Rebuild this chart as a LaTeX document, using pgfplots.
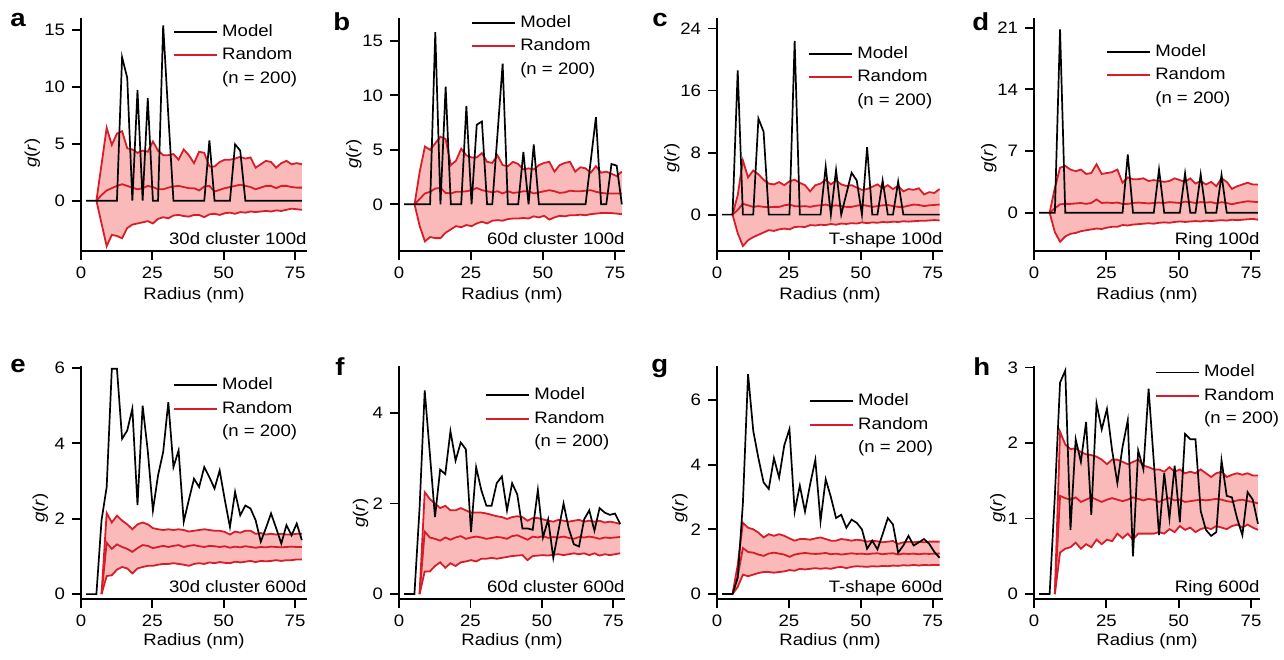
\documentclass[border=0pt]{standalone}
\usepackage{fontspec}
\setmainfont{Liberation Sans}[FakeStretch=1.12]
\usepackage{pgfplots}
\usepackage{pgfplotstable}
\pgfplotsset{compat=1.18}
\usepgfplotslibrary{fillbetween}

\definecolor{rline}{RGB}{215,30,40}
\definecolor{band}{RGB}{250,186,186}

\pgfplotstableread{
x y
1.8 0
12.6 0
14.4 12.6
16.2 10.8
18.0 0
19.8 9.7
21.6 0
23.4 9.0
25.2 0
27.0 0
28.8 15.4
30.6 7.5
32.4 0
43.2 0
45.0 5.3
46.8 0
52.2 0
54.0 4.95
55.8 4.4
57.6 0
77.4 0
}\ma
\pgfplotstableread{
x lo mid hi
5.4 0 0 0
7.2 -2.0 0.5 3.2
9.0 -4.0 0.9 6.4
10.8 -3.0 1.1 4.9
12.6 -3.1 1.3 5.9
14.4 -3.3 1.45 6.1
16.2 -2.4 1.3 4.6
18.0 -2.1 1.15 4.5
19.8 -2.0 1.0 4.2
21.6 -1.9 1.1 4.4
23.4 -1.8 1.3 4.3
25.2 -2.0 1.2 5.2
27.0 -1.6 1.0 4.4
28.8 -1.45 1.0 4.0
30.6 -1.55 1.15 4.0
32.4 -1.3 1.25 4.1
34.2 -1.25 1.3 3.6
36.0 -1.35 1.2 4.5
37.8 -1.4 1.1 4.0
39.6 -1.25 1.1 3.3
41.4 -1.25 0.9 4.3
43.2 -1.45 1.25 4.2
45.0 -1.2 1.3 3.0
46.8 -1.15 0.8 3.0
48.6 -1.25 0.95 3.4
50.4 -1.1 1.1 3.6
52.2 -1.05 1.2 3.6
54.0 -1.15 1.3 3.7
55.8 -1.0 1.4 3.85
57.6 -1.05 1.3 3.7
59.4 -0.95 1.2 3.8
61.2 -1.0 1.0 2.9
63.0 -0.95 1.15 3.2
64.8 -0.9 1.3 3.5
66.6 -0.95 1.3 3.4
68.4 -0.85 1.1 2.9
70.2 -0.9 1.3 3.3
72.0 -0.8 1.3 3.5
73.8 -0.7 1.2 3.2
75.6 -0.75 1.15 3.3
77.4 -0.8 1.15 3.2
}\ra

\pgfplotstableread{
x y
1.8 0
10.8 0
12.6 15.8
14.4 0
16.2 10.8
18.0 0
21.6 0
23.4 9.0
25.2 0
27.0 7.3
28.8 7.6
30.6 0
32.4 0
34.2 6.4
36.0 12.9
37.8 0
41.4 0
43.2 4.8
45.0 0
46.8 5.5
48.6 0
64.8 0
66.6 4.0
68.4 8.0
70.2 0
72.0 0
73.8 3.7
75.6 3.55
77.4 0
}\mb
\pgfplotstableread{
x lo mid hi
5.4 0 0 0
7.2 -2.0 0.5 3.0
9.0 -3.4 1.0 5.3
10.8 -3.0 1.15 5.0
12.6 -3.1 1.45 5.6
14.4 -3.1 1.5 6.2
16.2 -2.6 1.05 6.0
18.0 -2.3 1.0 3.6
19.8 -2.0 1.15 4.0
21.6 -2.1 1.15 5.1
23.4 -1.9 1.2 4.5
25.2 -2.0 1.3 4.3
27.0 -1.75 1.5 4.3
28.8 -1.6 1.3 4.7
30.6 -1.75 1.2 3.9
32.4 -1.5 1.1 3.8
34.2 -1.45 1.2 4.5
36.0 -1.5 1.0 3.6
37.8 -1.35 1.2 3.5
39.6 -1.3 1.05 3.9
41.4 -1.3 1.1 3.7
43.2 -1.25 1.2 3.2
45.0 -1.3 1.2 3.3
46.8 -1.1 1.0 3.2
48.6 -1.2 1.1 3.6
50.4 -1.05 1.2 3.8
52.2 -1.4 1.3 3.9
54.0 -1.2 1.2 3.0
55.8 -1.05 1.05 3.6
57.6 -1.1 1.1 3.8
59.4 -1.0 1.25 3.9
61.2 -1.0 1.2 3.0
63.0 -0.95 1.2 3.4
64.8 -1.0 1.25 3.3
66.6 -0.9 1.3 2.9
68.4 -0.85 1.15 3.5
70.2 -0.8 1.05 2.9
72.0 -0.8 1.0 3.0
73.8 -0.8 1.0 2.8
75.6 -0.85 1.0 2.6
77.4 -0.9 1.0 3.0
}\rb

\pgfplotstableread{
x y
1.8 0
5.4 0
7.2 18.6
9.0 0
12.6 0
14.4 12.4
16.2 10.7
18.0 0
25.2 0
27.0 22.4
28.8 0
36.0 0
37.8 6.2
39.6 0
41.4 5.75
43.2 0
45.0 2.7
46.8 5.4
48.6 4.4
50.4 0
52.2 8.7
54.0 0
55.8 0
57.6 4.4
59.4 0
61.2 0
63.0 4.26
64.8 0
77.4 0
}\mc
\pgfplotstableread{
x lo mid hi
5.4 0 0 0
7.2 -2.4 0.6 2.5
9.0 -4.05 1.4 7.0
10.8 -3.3 1.2 4.8
12.6 -2.9 1.0 5.7
14.4 -2.6 1.1 5.2
16.2 -2.3 1.0 4.5
18.0 -2.0 0.95 4.0
19.8 -2.1 1.0 3.9
21.6 -1.9 1.0 4.2
23.4 -1.8 1.2 3.8
25.2 -1.9 1.3 4.3
27.0 -1.6 1.1 4.5
28.8 -1.55 1.05 4.1
30.6 -1.6 1.1 3.8
32.4 -1.35 1.0 3.0
34.2 -1.4 1.15 3.8
36.0 -1.3 1.2 4.0
37.8 -1.35 1.3 4.5
39.6 -1.2 1.1 3.9
41.4 -1.3 1.2 4.4
43.2 -1.15 1.1 3.9
45.0 -1.2 1.0 3.7
46.8 -1.1 1.0 3.8
48.6 -1.15 1.15 3.5
50.4 -1.0 1.25 3.2
52.2 -1.1 1.15 3.3
54.0 -1.0 1.0 3.6
55.8 -1.05 1.1 3.9
57.6 -0.95 1.2 3.4
59.4 -1.0 1.25 3.8
61.2 -0.9 1.1 3.3
63.0 -0.95 1.0 3.7
64.8 -0.85 1.0 3.0
66.6 -0.9 1.15 3.3
68.4 -0.85 1.3 3.2
70.2 -0.8 1.25 3.4
72.0 -0.8 1.1 2.6
73.8 -0.75 1.2 2.9
75.6 -0.7 1.25 2.8
77.4 -0.75 1.3 3.3
}\rc

\pgfplotstableread{
x y
1.8 0
7.2 0
9.0 20.8
10.8 0
30.6 0
32.4 6.6
34.2 0
41.4 0
43.2 4.9
45.0 0
50.4 0
52.2 4.47
54.0 0
55.8 0
57.6 4.35
59.4 0
63.0 0
64.8 4.28
66.6 0
77.4 0
}\md
\pgfplotstableread{
x lo mid hi
5.4 0 0 0
7.2 -2.2 0.5 2.8
9.0 -3.3 0.95 5.1
10.8 -2.7 1.0 5.3
12.6 -2.4 1.0 4.9
14.4 -2.3 1.05 4.7
16.2 -2.1 1.1 4.9
18.0 -2.0 1.0 4.4
19.8 -1.9 1.1 4.5
21.6 -1.8 1.5 5.5
23.4 -1.85 1.1 4.4
25.2 -1.7 1.15 4.5
27.0 -1.6 1.1 4.6
28.8 -1.6 1.15 4.9
30.6 -1.4 1.0 3.4
32.4 -1.45 1.0 4.0
34.2 -1.35 1.1 3.8
36.0 -1.3 1.15 3.8
37.8 -1.25 1.1 3.9
39.6 -1.2 1.05 3.6
41.4 -1.25 1.1 3.7
43.2 -1.15 1.15 3.6
45.0 -1.1 1.1 3.5
46.8 -1.15 1.2 3.6
48.6 -1.05 1.15 3.9
50.4 -1.0 1.1 3.7
52.2 -1.05 1.25 3.5
54.0 -1.0 1.2 3.9
55.8 -0.95 1.1 3.3
57.6 -1.0 1.2 3.6
59.4 -0.9 1.15 3.2
61.2 -0.95 1.2 3.5
63.0 -0.9 1.05 3.0
64.8 -0.85 1.2 3.9
66.6 -0.9 1.1 3.5
68.4 -0.8 0.95 2.7
70.2 -0.85 1.1 3.0
72.0 -0.8 1.2 3.2
73.8 -0.75 1.3 3.4
75.6 -0.7 1.25 3.2
77.4 -0.8 1.2 3.2
}\rd

\pgfplotstableread{
x y
1.8 0
3.6 0
5.4 0
7.2 1.96
9.0 2.84
10.8 5.98
12.6 5.98
14.4 4.12
16.2 4.34
18.0 4.92
19.8 2.36
21.6 5.0
23.4 3.8
25.2 2.22
27.0 3.15
28.8 3.77
30.6 5.09
32.4 3.37
34.2 3.81
36.0 1.92
37.8 2.5
39.6 3.06
41.4 2.84
43.2 3.37
45.0 3.1
46.8 2.8
48.6 3.28
50.4 2.5
52.2 1.78
54.0 2.71
55.8 2.09
57.6 2.35
59.4 2.27
61.2 1.96
63.0 1.39
64.8 1.75
66.6 2.14
68.4 1.75
70.2 1.34
72.0 1.83
73.8 1.56
75.6 1.87
77.4 1.43
}\me
\pgfplotstableread{
x lo mid hi
7.2 0 0 0
9.0 0.48 1.36 2.15
10.8 0.5 1.2 1.9
12.6 0.65 1.32 2.08
14.4 0.72 1.25 1.95
16.2 0.68 1.2 1.85
18.0 0.55 1.12 1.72
19.8 0.68 1.22 1.85
21.6 0.72 1.3 1.9
23.4 0.75 1.28 1.85
25.2 0.75 1.22 1.75
27.0 0.78 1.25 1.72
28.8 0.8 1.28 1.7
30.6 0.8 1.25 1.72
32.4 0.82 1.28 1.7
34.2 0.8 1.3 1.72
36.0 0.78 1.25 1.7
37.8 0.75 1.28 1.66
39.6 0.8 1.3 1.68
41.4 0.82 1.27 1.7
43.2 0.8 1.25 1.72
45.0 0.84 1.28 1.7
46.8 0.82 1.27 1.68
48.6 0.85 1.25 1.68
50.4 0.83 1.27 1.65
52.2 0.82 1.23 1.58
54.0 0.86 1.26 1.66
55.8 0.84 1.24 1.63
57.6 0.86 1.27 1.68
59.4 0.88 1.25 1.68
61.2 0.85 1.23 1.6
63.0 0.88 1.25 1.62
64.8 0.87 1.24 1.58
66.6 0.88 1.26 1.6
68.4 0.9 1.25 1.58
70.2 0.88 1.24 1.6
72.0 0.9 1.25 1.58
73.8 0.9 1.26 1.58
75.6 0.92 1.25 1.6
77.4 0.92 1.25 1.6
}\re

\pgfplotstableread{
x y
1.8 0
3.6 0
5.4 0
7.2 1.9
9.0 4.5
10.8 3.1
12.6 1.7
14.4 2.75
16.2 2.65
18.0 3.6
19.8 2.95
21.6 3.35
23.4 3.2
25.2 1.37
27.0 2.8
28.8 2.3
30.6 1.95
32.4 1.95
34.2 2.45
36.0 2.6
37.8 1.85
39.6 2.45
41.4 2.2
43.2 1.45
45.0 1.45
46.8 1.42
48.6 2.3
50.4 1.25
52.2 1.65
54.0 0.8
55.8 1.4
57.6 2.0
59.4 1.45
61.2 1.1
63.0 1.05
64.8 1.65
66.6 1.85
68.4 1.4
70.2 1.9
72.0 1.8
73.8 1.75
75.6 1.78
77.4 1.55
}\mf
\pgfplotstableread{
x lo mid hi
7.2 0 0 0
9.0 0.5 1.38 2.25
10.8 0.5 1.25 2.1
12.6 0.62 1.22 2.0
14.4 0.7 1.18 1.9
16.2 0.58 1.25 1.95
18.0 0.68 1.2 1.85
19.8 0.62 1.25 1.85
21.6 0.7 1.28 1.9
23.4 0.72 1.22 1.85
25.2 0.75 1.25 1.8
27.0 0.72 1.27 1.8
28.8 0.78 1.25 1.8
30.6 0.78 1.22 1.78
32.4 0.8 1.24 1.75
34.2 0.78 1.26 1.72
36.0 0.8 1.25 1.7
37.8 0.82 1.22 1.66
39.6 0.84 1.28 1.7
41.4 0.85 1.3 1.72
43.2 0.86 1.25 1.7
45.0 0.75 1.2 1.62
46.8 0.84 1.27 1.68
48.6 0.85 1.25 1.68
50.4 0.86 1.28 1.65
52.2 0.85 1.24 1.62
54.0 0.87 1.26 1.6
55.8 0.88 1.25 1.64
57.6 0.86 1.27 1.62
59.4 0.88 1.24 1.6
61.2 0.9 1.22 1.62
63.0 0.88 1.26 1.64
64.8 0.9 1.25 1.6
66.6 0.86 1.27 1.62
68.4 0.9 1.25 1.6
70.2 0.85 1.22 1.62
72.0 0.88 1.25 1.58
73.8 0.86 1.24 1.6
75.6 0.88 1.25 1.58
77.4 0.9 1.26 1.55
}\rf

\pgfplotstableread{
x y
1.8 0
3.6 0
5.4 0
7.2 0.5
9.0 2.8
10.8 6.8
12.6 5.05
14.4 4.2
16.2 3.45
18.0 3.25
19.8 4.2
21.6 3.6
23.4 4.6
25.2 5.1
27.0 2.55
28.8 3.35
30.6 2.55
32.4 3.4
34.2 4.15
36.0 2.25
37.8 3.55
39.6 3.0
41.4 2.35
43.2 2.45
45.0 2.05
46.8 2.3
48.6 2.2
50.4 2.0
52.2 1.4
54.0 1.65
55.8 1.38
57.6 1.85
59.4 2.35
61.2 2.15
63.0 1.28
64.8 1.5
66.6 1.8
68.4 1.5
70.2 1.6
72.0 1.7
73.8 1.55
75.6 1.3
77.4 1.12
}\mg
\pgfplotstableread{
x lo mid hi
5.4 0 0 0
7.2 0.22 0.55 0.9
9.0 0.6 1.42 2.2
10.8 0.55 1.3 2.05
12.6 0.6 1.28 2.0
14.4 0.65 1.22 1.9
16.2 0.68 1.18 1.75
18.0 0.68 1.25 1.85
19.8 0.66 1.28 1.8
21.6 0.68 1.25 1.85
23.4 0.7 1.22 1.8
25.2 0.74 1.15 1.72
27.0 0.72 1.22 1.65
28.8 0.78 1.25 1.7
30.6 0.76 1.27 1.7
32.4 0.78 1.25 1.68
34.2 0.8 1.24 1.72
36.0 0.78 1.25 1.75
37.8 0.8 1.27 1.7
39.6 0.78 1.23 1.65
41.4 0.82 1.25 1.65
43.2 0.84 1.22 1.7
45.0 0.8 1.24 1.68
46.8 0.84 1.26 1.65
48.6 0.86 1.24 1.68
50.4 0.85 1.25 1.66
52.2 0.84 1.23 1.62
54.0 0.86 1.25 1.65
55.8 0.85 1.26 1.63
57.6 0.87 1.23 1.6
59.4 0.86 1.25 1.62
61.2 0.88 1.26 1.64
63.0 0.87 1.22 1.55
64.8 0.89 1.25 1.6
66.6 0.88 1.24 1.62
68.4 0.9 1.25 1.6
70.2 0.88 1.23 1.62
72.0 0.9 1.25 1.6
73.8 0.89 1.24 1.62
75.6 0.9 1.25 1.62
77.4 0.9 1.25 1.62
}\rg

\pgfplotstableread{
x y
1.8 0
3.6 0
5.4 0
7.2 1.3
9.0 2.8
10.8 2.96
12.6 0.85
14.4 2.05
16.2 1.75
18.0 2.28
19.8 1.05
21.6 2.52
23.4 2.18
25.2 2.45
27.0 1.9
28.8 1.47
30.6 1.95
32.4 2.3
34.2 0.5
36.0 1.9
37.8 1.65
39.6 2.72
41.4 1.75
43.2 0.78
45.0 1.6
46.8 1.0
48.6 1.7
50.4 0.95
52.2 2.12
54.0 2.05
55.8 2.05
57.6 1.1
59.4 0.85
61.2 0.77
63.0 0.82
64.8 1.77
66.6 1.3
68.4 1.28
70.2 1.0
72.0 0.78
73.8 1.35
75.6 1.25
77.4 0.93
}\mh
\pgfplotstableread{
x lo mid hi
7.2 0 0 0
9.0 0.55 1.3 2.15
10.8 0.6 1.27 1.98
12.6 0.62 1.25 1.92
14.4 0.68 1.28 1.93
16.2 0.6 1.22 1.88
18.0 0.66 1.25 1.85
19.8 0.62 1.28 1.84
21.6 0.72 1.25 1.82
23.4 0.66 1.22 1.78
25.2 0.72 1.25 1.72
27.0 0.7 1.27 1.78
28.8 0.8 1.25 1.78
30.6 0.74 1.23 1.75
32.4 0.8 1.25 1.72
34.2 0.72 1.28 1.75
36.0 0.8 1.26 1.78
37.8 0.8 1.24 1.7
39.6 0.8 1.26 1.68
41.4 0.8 1.25 1.65
43.2 0.82 1.22 1.65
45.0 0.8 1.25 1.62
46.8 0.86 1.27 1.68
48.6 0.82 1.24 1.62
50.4 0.9 1.25 1.65
52.2 0.85 1.22 1.6
54.0 0.88 1.23 1.62
55.8 0.82 1.24 1.6
57.6 0.86 1.25 1.65
59.4 0.88 1.24 1.6
61.2 0.86 1.25 1.55
63.0 0.9 1.26 1.6
64.8 0.88 1.25 1.62
66.6 0.86 1.23 1.55
68.4 0.9 1.22 1.58
70.2 0.92 1.24 1.6
72.0 0.88 1.25 1.58
73.8 0.92 1.23 1.6
75.6 0.88 1.22 1.57
77.4 0.85 1.2 1.57
}\rh

\newcommand{\fs}{\fontsize{8.3}{9.8}\selectfont}

\pgfplotsset{
  gstyle/.style={
    scale only axis, width=113pt, height=116.5pt, anchor=south west,
    xmin=0, axis x line=bottom, axis y line=left,
    axis line style={-, line width=0.9pt},
    xtick={0,25,50,75}, tick align=outside, major tick length=4.5pt,
    tick style={black, line width=0.9pt},
    ticklabel style={font=\fs},
    /pgf/number format/assume math mode=true,
    xlabel={Radius (nm)}, ylabel={\textit{g}(\textit{r})},
    label style={font=\fs},
    xlabel style={at={(axis description cs:0.5,-0.19)}, anchor=center},
    ylabel style={anchor=center},
    legend style={draw=none, fill=none, anchor=north west, inner sep=0pt,
      font=\fs, row sep=2.95pt,
      nodes={inner ysep=0.5pt, text height=6.1pt, text depth=1.7pt}},
    legend cell align=left,
    legend image code/.code={\draw[#1] (0pt,0pt) -- (21.5pt,0pt);},
  }
}

% #1 axis options, #2 model table, #3 random table, #4 annotation
\newcommand{\gpanel}[4]{%
\begin{axis}[gstyle, #1]
  \addplot[name path=H, draw=none, forget plot] table[x=x, y=hi] {#3};
  \addplot[name path=L, draw=none, forget plot] table[x=x, y=lo] {#3};
  \addplot[fill=band, draw=none, forget plot] fill between[of=H and L];
  \addplot[rline, line width=0.9pt, forget plot] table[x=x, y=hi] {#3};
  \addplot[rline, line width=0.9pt, forget plot] table[x=x, y=lo] {#3};
  \addplot[rline, line width=0.9pt, forget plot] table[x=x, y=mid] {#3};
  \addplot[black, line width=0.85pt, forget plot] table[x=x, y=y] {#2};
  \addlegendimage{black, line width=0.85pt}\addlegendentry{Model}
  \addlegendimage{rline, line width=0.9pt}\addlegendentry{Random}
  \addlegendimage{empty legend}\addlegendentry{(n = 200)}
  \node[anchor=base east, inner sep=0pt, font=\fs] at (axis description cs:1,0.027) {#4};
\end{axis}}

\begin{document}
\begin{tikzpicture}

\gpanel{at={(40.5pt,-125.5pt)}, xmax=79.2, ymin=-4.42, ymax=16.05, ytick={0,5,10,15},
  ylabel style={at={(axis description cs:-0.215,0.42)}},
  legend style={at={(0.407,0.980)}}}{\ma}{\ra}{30d cluster 100d}
\gpanel{at={(199.5pt,-125.5pt)}, xmax=78.5, ymin=-4.28, ymax=17.09, ytick={0,5,10,15},
  ylabel style={at={(axis description cs:-0.2,0.416)}},
  legend style={at={(0.319,1.019)}}}{\mb}{\rb}{60d cluster 100d}
\gpanel{at={(358.5pt,-125.5pt)}, xmax=78.6, ymin=-4.69, ymax=25.36, ytick={0,8,16,24},
  ylabel style={at={(axis description cs:-0.2,0.40)}},
  legend style={at={(0.403,0.886)}}}{\mc}{\rc}{T-shape 100d}
\gpanel{at={(517pt,-125.5pt)}, xmax=78.1, ymin=-4.35, ymax=22.1, ytick={0,7,14,21},
  ylabel style={at={(axis description cs:-0.2,0.40)}},
  legend style={at={(0.319,0.894)}}}{\md}{\rd}{Ring 100d}

\gpanel{at={(40.5pt,-299.5pt)}, xmax=79.2, ymin=-0.13, ymax=6.05, ytick={0,2,4,6},
  ylabel style={at={(axis description cs:-0.18,0.39)}},
  xlabel style={at={(axis description cs:0.5,-0.183)}},
  legend style={at={(0.407,0.957)}}}{\me}{\re}{30d cluster 600d}
\gpanel{at={(199.5pt,-299.5pt)}, xmax=79.1, ymin=-0.11, ymax=5.04, ytick={0,2,4},
  ylabel style={at={(axis description cs:-0.17,0.37)}},
  xlabel style={at={(axis description cs:0.5,-0.183)}},
  legend style={at={(0.381,0.914)}}}{\mf}{\rf}{60d cluster 600d}
\gpanel{at={(358.5pt,-299.5pt)}, xmax=78.6, ymin=-0.154, ymax=7.05, ytick={0,2,4,6},
  ylabel style={at={(axis description cs:-0.165,0.39)}},
  xlabel style={at={(axis description cs:0.5,-0.183)}},
  legend style={at={(0.407,0.888)}}}{\mg}{\rg}{T-shape 600d}
\gpanel{at={(517pt,-299.5pt)}, xmax=78.1, ymin=-0.066, ymax=3.02, ytick={0,1,2,3},
  ylabel style={at={(axis description cs:-0.16,0.39)}},
  xlabel style={at={(axis description cs:0.5,-0.183)}},
  legend style={at={(0.535,1.012)}}}{\mh}{\rh}{Ring 600d}

\begin{scope}[every node/.style={anchor=north west, inner sep=0pt, font=\fontsize{12.3}{14}\selectfont\bfseries}]
\node at (5pt,-6.35pt) {a};
\node at (166.5pt,-6.35pt) {b};
\node at (326pt,-6.35pt) {c};
\node at (486pt,-6.35pt) {d};
\node at (5pt,-179.5pt) {e};
\node at (167.5pt,-178.5pt) {f};
\node at (325.5pt,-179.5pt) {g};
\node at (486.5pt,-178.5pt) {h};
\end{scope}

\pgfresetboundingbox
\path (0,0) rectangle (642pt,-329.5pt);
\end{tikzpicture}
\end{document}
